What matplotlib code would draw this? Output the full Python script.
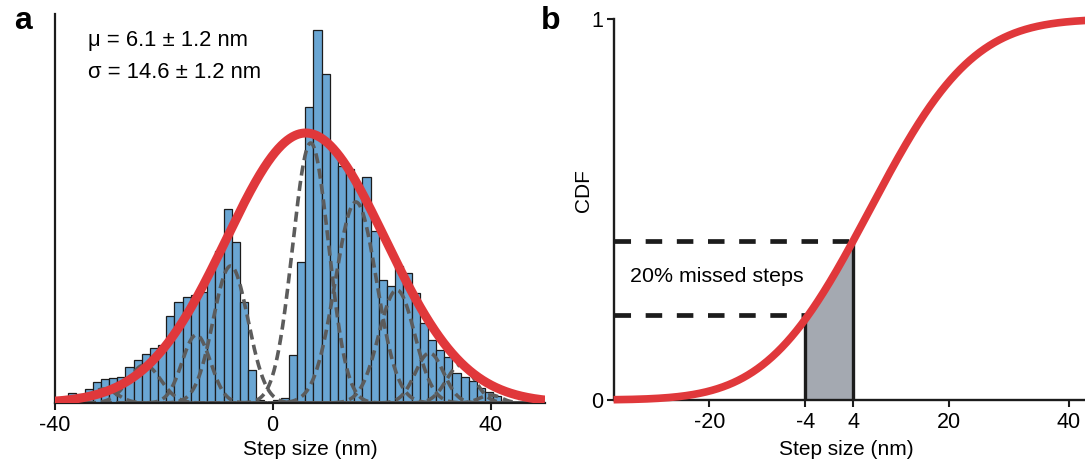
import math
import numpy as np
import matplotlib
matplotlib.use("Agg")
import matplotlib.pyplot as plt

plt.rcParams['font.family'] = ['Liberation Sans', 'DejaVu Sans']
plt.rcParams['axes.unicode_minus'] = False

# ---------------- data (panel a) ----------------
bin_start = -37.5          # nm, left edge of first bin
bin_width = 1.5            # nm
counts = [10, 9, 14, 21, 24, 25, 26, 36, 43, 49,
          55, 58, 87, 101, 106, 108, 111, 134, 152, 194,
          161, 101, 33, 3, 0, 3, 5, 48, 141, 296,
          373, 329, 253, 237, 234, 220, 226, 172, 123, 117,
          137, 130, 110, 80, 63, 53, 46, 30, 26, 22,
          15, 11, 7, 2]

# overall Gaussian fit (red)
fit_mu = 6.1
fit_sigma = 14.6
fit_amp = 270

# individual Gaussian components (grey dashed)
comp_centers = [-31.0, -23.5, -14.0, -7.7, 7.0, 15.3, 22.8, 28.8, 34.5, 40.0]
comp_heights = [14, 38, 68, 137, 260, 201, 113, 50, 38, 8]
comp_sigmas = [2.5, 3.0, 2.6, 3.2, 3.3, 3.8, 3.3, 2.6, 2.6, 2.0]

a_xticks = [-40, 0, 40]
a_xticklabels = ['-40', '0', '40']
mu_text = 'μ = 6.1 ± 1.2 nm'
sigma_text = 'σ = 14.6 ± 1.2 nm'

# ---------------- data (panel b) ----------------
cdf_mu = 6.8
cdf_sigma = 13.5
window_lo, window_hi = -4, 4
b_xticks = [-20, -4, 4, 20, 40]
b_xticklabels = ['-20', '-4', '4', '20', '40']
b_yticks = [0, 1]
b_yticklabels = ['0', '1']
missed_text = '20% missed steps'

# ---------------- helpers ----------------
_erf = np.vectorize(math.erf)

def norm_cdf(x, mu, s):
    return 0.5 * (1 + _erf((np.asarray(x) - mu) / (s * math.sqrt(2))))

def gauss(x, amp, mu, s):
    return amp * np.exp(-0.5 * ((x - mu) / s) ** 2)

W, H = 1085, 465
fig = plt.figure(figsize=(W / 100, H / 100), dpi=100)

def px(l, t, r, b):
    return [l / W, 1 - b / H, (r - l) / W, (b - t) / H]

RED = '#e0383b'
DARK = '#1c1c1c'

# ---------------- panel a ----------------
ax1 = fig.add_axes(px(54.6, 14, 545, 403))
ax1.set_xlim(-40, 50)
ax1.set_ylim(0, 389)
edges = bin_start + bin_width * np.arange(len(counts))
ax1.bar(edges, counts, width=bin_width, align='edge', color='#6aa6d3',
        edgecolor=DARK, linewidth=0.9, zorder=1)

xs = np.linspace(-40, 50, 900)
for c, h, s in zip(comp_centers, comp_heights, comp_sigmas):
    ax1.plot(xs, gauss(xs, h, c, s), color='#5c5c5c', lw=2.6,
             linestyle=(0, (2.8, 1.5)), zorder=2)
ax1.plot(xs, gauss(xs, fit_amp, fit_mu, fit_sigma), color=RED, lw=6.5,
         solid_capstyle='butt', zorder=3)

for sp in ['top', 'right']:
    ax1.spines[sp].set_visible(False)
for sp in ['left', 'bottom']:
    ax1.spines[sp].set_linewidth(1.6)
    ax1.spines[sp].set_color(DARK)
ax1.set_yticks([])
ax1.set_xticks(a_xticks)
ax1.set_xticklabels(a_xticklabels)
ax1.tick_params(axis='x', direction='out', length=5, width=1.5,
                labelsize=15.5, pad=3.5, color=DARK)
ax1.text(-33.9, 363, mu_text, fontsize=15.8, ha='left', va='center')
ax1.text(-33.9, 331, sigma_text, fontsize=15.8, ha='left', va='center')
fig.text(310 / W, 1 - 449 / H, 'Step size (nm)', fontsize=15,
         ha='center', va='center')

# ---------------- panel b ----------------
ax2 = fig.add_axes(px(613.6, 19, 613.6 + 81 * 5.99, 400))
ax2.set_xlim(-36, 45)
ax2.set_ylim(0, 1)
xb = np.linspace(-36, 45, 800)
yb = norm_cdf(xb, cdf_mu, cdf_sigma)

xw = np.linspace(window_lo, window_hi, 100)
ax2.fill_between(xw, 0, norm_cdf(xw, cdf_mu, cdf_sigma), color='#a4a9b1',
                 lw=0, zorder=1)
lo_level = float(norm_cdf(window_lo, cdf_mu, cdf_sigma))
hi_level = float(norm_cdf(window_hi, cdf_mu, cdf_sigma))
ax2.plot([window_lo, window_lo], [0, lo_level], color=DARK, lw=2.4, zorder=2)
ax2.plot([window_hi, window_hi], [0, hi_level], color=DARK, lw=2.4, zorder=2)
ax2.plot([-36, window_hi], [hi_level, hi_level], color=DARK, lw=3.4,
         linestyle=(0, (3.5, 3.1)), dash_capstyle='butt', zorder=2)
ax2.plot([-36, window_lo], [lo_level + 0.01, lo_level + 0.01], color=DARK,
         lw=3.4, linestyle=(0, (3.5, 3.1)), dash_capstyle='butt', zorder=2)
ax2.plot(xb, yb, color=RED, lw=5.5, zorder=4, clip_on=False,
         solid_capstyle='butt')

for sp in ['top', 'right']:
    ax2.spines[sp].set_visible(False)
for sp in ['left', 'bottom']:
    ax2.spines[sp].set_linewidth(1.7)
    ax2.spines[sp].set_color(DARK)
ax2.set_xticks(b_xticks)
ax2.set_xticklabels(b_xticklabels)
ax2.set_yticks(b_yticks)
ax2.set_yticklabels(b_yticklabels)
ax2.tick_params(axis='both', direction='out', length=5, width=1.5,
                labelsize=15.5, color=DARK)
ax2.tick_params(axis='x', pad=3.5)
ax2.tick_params(axis='y', pad=2.5)
ax2.text(-33.2, 0.323, missed_text, fontsize=15.4, ha='left', va='center')
fig.text(846 / W, 1 - 449 / H, 'Step size (nm)', fontsize=15,
         ha='center', va='center')
fig.text(584 / W, 1 - 191 / H, 'CDF', fontsize=15, rotation=90,
         ha='center', va='center')

# panel letters
fig.text(14 / W, 1 - 29 / H, 'a', fontsize=23, fontweight='bold',
         ha='left', va='baseline')
fig.text(541 / W, 1 - 29 / H, 'b', fontsize=23, fontweight='bold',
         ha='left', va='baseline')

fig.savefig('out.png', dpi=100)
